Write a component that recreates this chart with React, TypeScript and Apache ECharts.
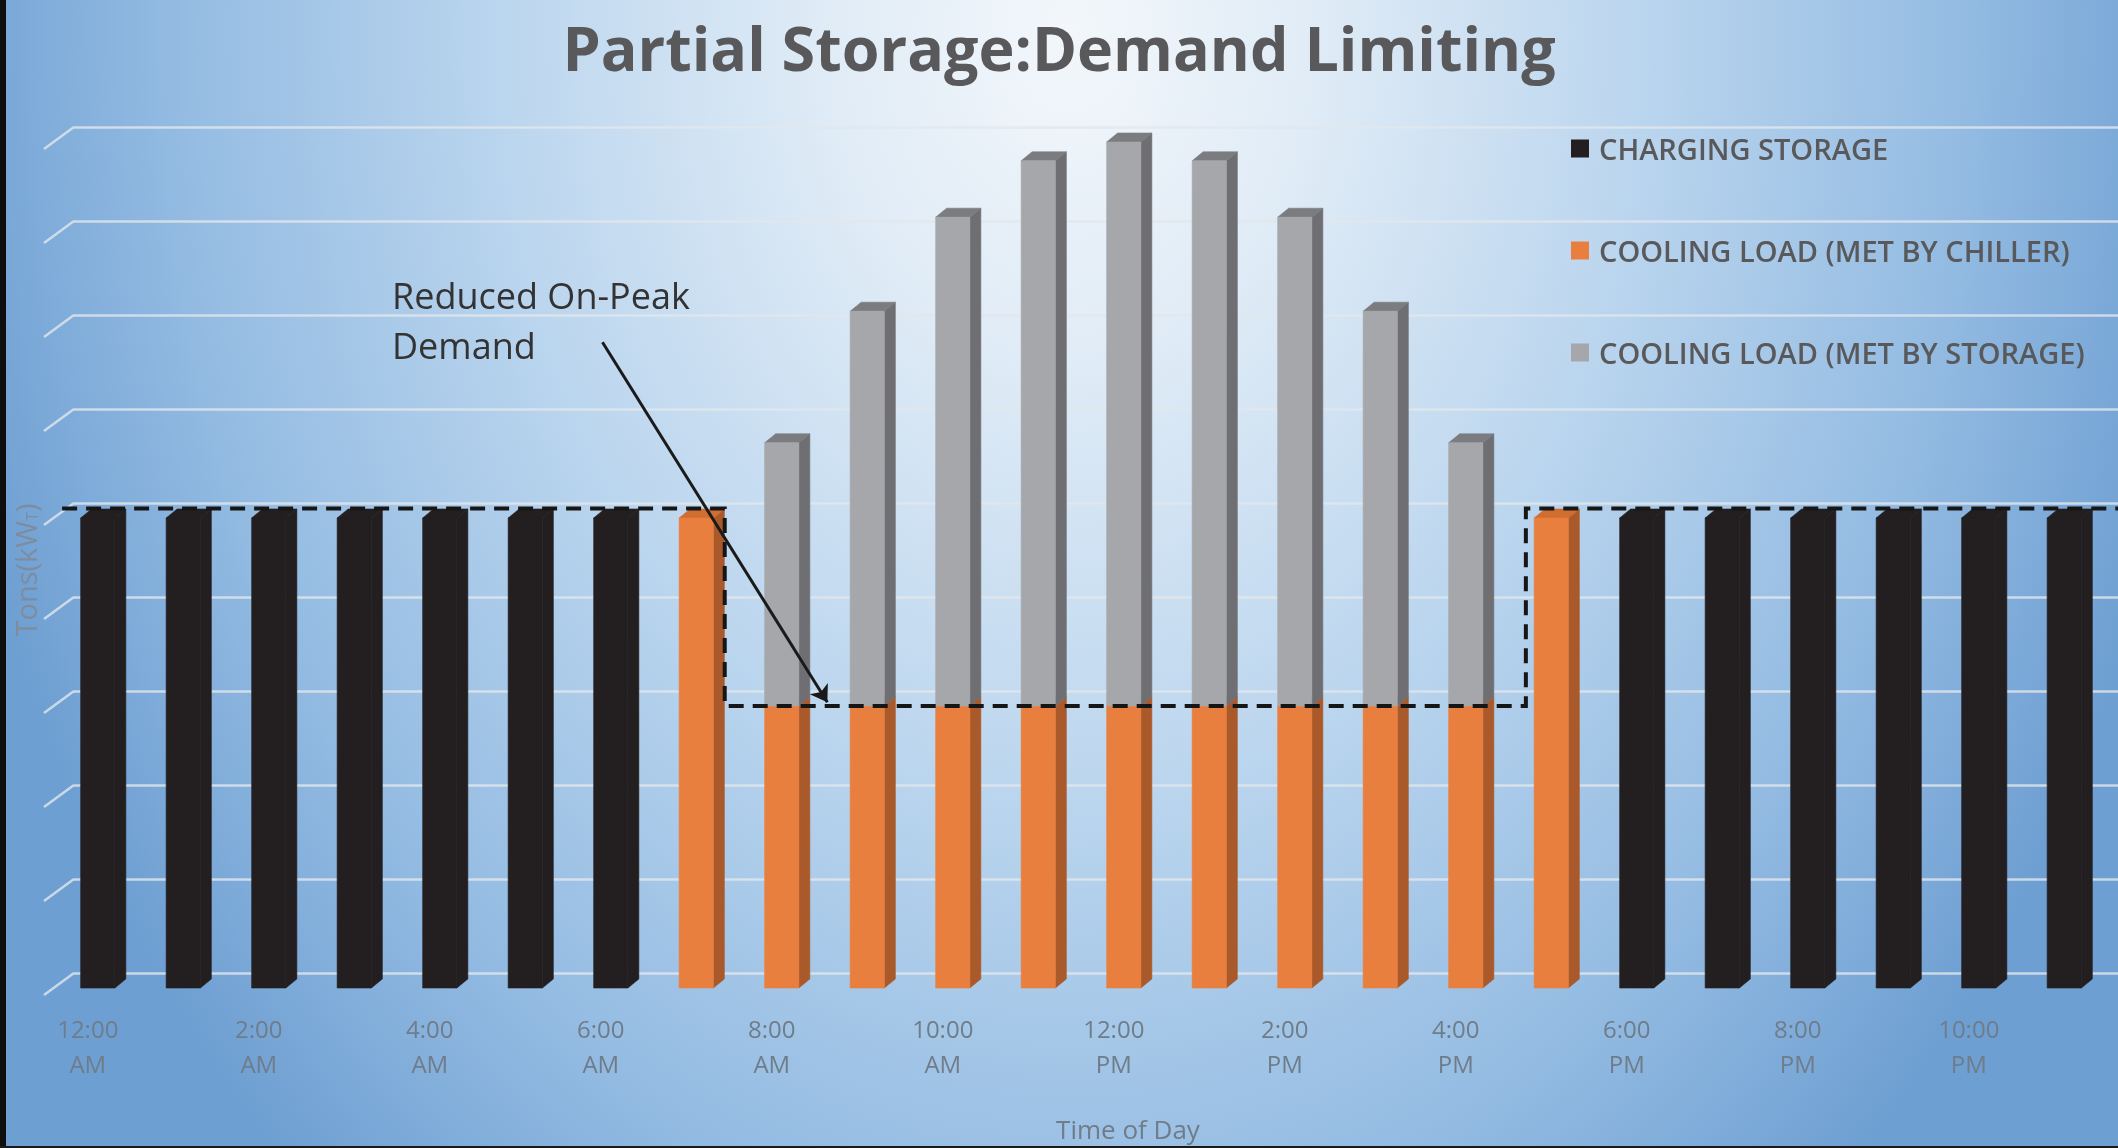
import React, { useEffect, useRef } from "react";
import * as echarts from "echarts";

// Hour-of-day categories
const hours = [
  "12:00 AM", "1:00 AM", "2:00 AM", "3:00 AM", "4:00 AM", "5:00 AM",
  "6:00 AM", "7:00 AM", "8:00 AM", "9:00 AM", "10:00 AM", "11:00 AM",
  "12:00 PM", "1:00 PM", "2:00 PM", "3:00 PM", "4:00 PM", "5:00 PM",
  "6:00 PM", "7:00 PM", "8:00 PM", "9:00 PM", "10:00 PM", "11:00 PM",
];

// Load per hour (gridline units)
const chargingStorage = [
  5, 5, 5, 5, 5, 5, 5,
  null, null, null, null, null, null, null, null, null, null, null,
  5, 5, 5, 5, 5, 5,
];
const chillerLoad = [
  null, null, null, null, null, null, null,
  5, 3, 3, 3, 3, 3, 3, 3, 3, 3, 5,
  null, null, null, null, null, null,
];
const storageLoad = [
  null, null, null, null, null, null, null, null,
  2.8, 4.2, 5.2, 5.8, 6.0, 5.8, 5.2, 4.2, 2.8,
  null, null, null, null, null, null, null,
];

// Demand-limit outline (x in hour index, y in load units)
const demandLimitX = [-0.3, 7.45, 7.45, 16.82, 16.82, 23.75];
const demandLimitY = [5.1, 5.1, 3.0, 3.0, 5.1, 5.1];

// Callout arrow end points
const arrowFrom = [6.02, 6.87];
const arrowTo = [8.65, 3.04];

// Back-wall gridline levels
const wallLevels = [0, 1, 2, 3, 4, 5, 6, 7, 8, 9];

const FONT = "'Open Sans', 'Noto Sans', sans-serif";
const GRID_COLOR = "rgba(226,231,236,0.8)";
const DEPTH_X = 11;
const DEPTH_Y = 9;
const BAR_SHIFT = 10;

type Faces = { front: string; side: string; top: string };

function face(fill: string) {
  return { fill, stroke: fill, lineWidth: 0.6 };
}

function bar3d(faces: Faces) {
  return (_params: any, api: any) => {
    const i = api.value(0);
    const p0 = api.coord([i, api.value(1)]);
    const p1 = api.coord([i, api.value(2)]);
    const w = api.size([1, 0])[0] * 0.4;
    const xl = p0[0] + BAR_SHIFT - w / 2;
    const xr = xl + w;
    const yb = p0[1];
    const yt = p1[1];
    return {
      type: "group",
      children: [
        {
          type: "polygon",
          shape: { points: [[xr, yb], [xr + DEPTH_X, yb - DEPTH_Y], [xr + DEPTH_X, yt - DEPTH_Y], [xr, yt]] },
          style: face(faces.side),
        },
        {
          type: "polygon",
          shape: { points: [[xl, yt], [xl + DEPTH_X, yt - DEPTH_Y], [xr + DEPTH_X, yt - DEPTH_Y], [xr, yt]] },
          style: face(faces.top),
        },
        {
          type: "rect",
          shape: { x: xl, y: yt, width: w, height: yb - yt },
          style: face(faces.front),
        },
      ],
    };
  };
}

function stackData(values: (number | null)[], bases: (number | null)[] | null) {
  const out: number[][] = [];
  values.forEach((v, i) => {
    if (v == null) return;
    const b = bases && bases[i] != null ? (bases[i] as number) : 0;
    out.push([i, b, b + v]);
  });
  return out;
}

const BLACK: Faces = { front: "#231f20", side: "#231f20", top: "#231f20" };
const ORANGE: Faces = { front: "#e97f3e", side: "#a9592a", top: "#d06d31" };
const GRAY: Faces = { front: "#a6a7aa", side: "#6f6f73", top: "#7b7c80" };

function buildOption() {
  return {
    animation: false,
    backgroundColor: "transparent",
    title: {
      text: "Partial Storage:Demand Limiting",
      left: "center",
      top: 12,
      textStyle: { fontFamily: FONT, fontSize: 61, fontWeight: "bold", color: "#59595b" },
    },
    legend: {
      orient: "vertical",
      left: 1566,
      top: 129,
      itemWidth: 18,
      itemHeight: 18,
      itemGap: 73,
      icon: "rect",
      textStyle: { fontFamily: FONT, fontSize: 29, fontWeight: 600, color: "#59595c", padding: [0, 0, 0, 5] },
      data: ["CHARGING STORAGE", "COOLING LOAD (MET BY CHILLER)", "COOLING LOAD (MET BY STORAGE)"],
    },
    grid: [
      { left: 45, right: 21, top: 142, bottom: 160 },
      { left: 74, right: 0, top: 127, bottom: 175 },
    ],
    xAxis: [
      {
        type: "category",
        gridIndex: 0,
        data: hours,
        boundaryGap: true,
        axisLine: { show: false },
        axisTick: { show: false },
        splitLine: { show: false },
        axisLabel: {
          interval: 1,
          margin: 23,
          fontFamily: FONT,
          fontSize: 24,
          lineHeight: 35,
          color: "#6f7c8a",
          formatter: (v: string) => v.replace(" ", "\n"),
        },
        name: "Time of Day",
        nameLocation: "middle",
        nameGap: 128,
        nameTextStyle: { fontFamily: FONT, fontSize: 26, color: "#6f7c8a", padding: [0, 0, 0, 114] },
      },
      { type: "value", gridIndex: 0, min: -0.5, max: 23.5, show: false },
      { type: "value", gridIndex: 1, min: 0, max: 1, show: false },
    ],
    yAxis: [
      { type: "value", gridIndex: 0, min: 0, max: 9, interval: 1, show: false },
      {
        type: "value",
        gridIndex: 1,
        min: 0,
        max: 9,
        interval: 1,
        axisLine: { show: false },
        axisTick: { show: false },
        axisLabel: { show: false },
        splitLine: { show: true, lineStyle: { color: GRID_COLOR, width: 2.5 } },
        name: "Tons(kW{sub|T})",
        nameLocation: "middle",
        nameRotate: 90,
        nameGap: 34,
        nameTextStyle: {
          fontFamily: FONT,
          fontSize: 29,
          color: "#7d8d9f",
          padding: [0, 40, 0, 0],
          rich: { sub: { fontFamily: FONT, fontSize: 16, color: "#7d8d9f", padding: [14, 0, 0, 0] } },
        },
      },
    ],
    graphic: [
      {
        type: "text",
        left: 392,
        top: 270,
        z: 20,
        style: {
          text: "Reduced On-Peak\nDemand",
          font: `36px ${FONT}`,
          lineHeight: 50,
          fill: "#333333",
        },
      },
    ],
    series: [
      {
        type: "custom",
        name: "wall-edges",
        xAxisIndex: 2,
        yAxisIndex: 1,
        silent: true,
        z: 1,
        data: wallLevels.map((v) => [0, v]),
        renderItem: (_p: any, api: any) => {
          const p = api.coord([0, api.value(1)]);
          return {
            type: "line",
            shape: { x1: p[0] - 30, y1: p[1] + 22, x2: p[0], y2: p[1] },
            style: { stroke: GRID_COLOR, lineWidth: 2.5 },
          };
        },
      },
      {
        type: "custom",
        name: "CHARGING STORAGE",
        xAxisIndex: 0,
        yAxisIndex: 0,
        z: 3,
        itemStyle: { color: BLACK.front },
        encode: { x: 0, y: [1, 2] },
        data: stackData(chargingStorage, null),
        renderItem: bar3d(BLACK),
      },
      {
        type: "custom",
        name: "COOLING LOAD (MET BY CHILLER)",
        xAxisIndex: 0,
        yAxisIndex: 0,
        z: 3,
        itemStyle: { color: ORANGE.front },
        encode: { x: 0, y: [1, 2] },
        data: stackData(chillerLoad, null),
        renderItem: bar3d(ORANGE),
      },
      {
        type: "custom",
        name: "COOLING LOAD (MET BY STORAGE)",
        xAxisIndex: 0,
        yAxisIndex: 0,
        z: 3,
        itemStyle: { color: GRAY.front },
        encode: { x: 0, y: [1, 2] },
        data: stackData(storageLoad, chillerLoad),
        renderItem: bar3d(GRAY),
      },
      {
        // Demand-limit outline, drawn as one dashed polyline
        type: "custom",
        name: "demand-limit",
        xAxisIndex: 1,
        yAxisIndex: 0,
        z: 6,
        clip: false,
        silent: true,
        data: [[0, 0]],
        renderItem: (_p: any, api: any) => ({
          type: "polyline",
          shape: { points: demandLimitX.map((x, i) => api.coord([x, demandLimitY[i]])) },
          style: { stroke: "#161616", lineWidth: 4, lineDash: [15, 9], fill: "none" },
        }),
      },
      {
        type: "lines",
        name: "callout",
        coordinateSystem: "cartesian2d",
        xAxisIndex: 1,
        yAxisIndex: 0,
        z: 7,
        silent: true,
        symbol: ["none", "arrow"],
        symbolSize: 16,
        lineStyle: { color: "#1a1a1a", width: 3, opacity: 1 },
        data: [{ coords: [arrowFrom, arrowTo] }],
      },
    ],
  };
}

export default function App() {
  const ref = useRef<HTMLDivElement>(null);
  useEffect(() => {
    if (!ref.current) return;
    const chart = echarts.init(ref.current, null, { renderer: "svg" });
    chart.setOption(buildOption() as any);
    return () => chart.dispose();
  }, []);
  return (
    <div
      style={{
        position: "fixed",
        left: 0,
        top: 0,
        width: 2118,
        height: 1148,
        overflow: "hidden",
        background:
          "radial-gradient(ellipse 1150px 1550px at 1070px 30px, #f3f7fb 0%, #dfebf6 22%, #bad5ee 50%, #93bbe2 78%, #6e9fd2 100%)",
      }}
    >
      <div ref={ref} style={{ position: "absolute", left: 0, top: 0, width: 2118, height: 1148 }} />
      <div style={{ position: "absolute", left: 0, top: 0, width: 6, height: 1148, background: "#0e0e0e" }} />
      <div style={{ position: "absolute", left: 0, bottom: 0, width: 2118, height: 2, background: "#1a1a1a" }} />
    </div>
  );
}
